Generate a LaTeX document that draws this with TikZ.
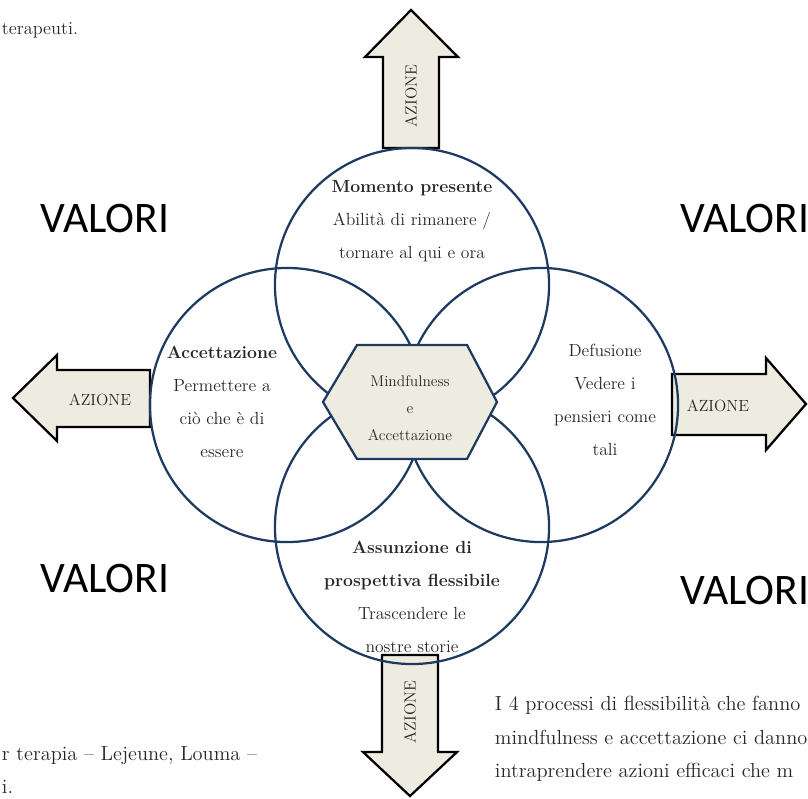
\documentclass[tikz,border=0pt]{standalone}
\usepackage{fontspec}
\newfontfamily\valorifont{Carlito}
\usepackage{xcolor}
\usepackage{tikz}
\usetikzlibrary{shapes.geometric, arrows.meta, positioning}

\definecolor{bordoblu}{HTML}{1F3A60}
\definecolor{fondocarta}{HTML}{EEECE1}
\definecolor{testogrigio}{HTML}{262626}

\tikzset{
  processo/.style={draw=bordoblu, line width=1.6pt},
  frecciona/.style={draw=black, line width=1.6pt, fill=fondocarta, line join=miter},
  azione/.style={font=\fontsize{11.5}{13}\selectfont, text=testogrigio},
  valori/.style={font=\valorifont\fontsize{31}{34}\selectfont},
  testocerchio/.style={align=center, text=testogrigio, font=\fontsize{12.5}{23.5}\selectfont},
  nota/.style={anchor=west, align=left, text=testogrigio, font=\fontsize{14.5}{24}\selectfont},
}

\begin{document}
\begin{tikzpicture}[x=0.025cm, y=-0.025cm]

        \useasboundingbox (0,0) rectangle (808,798);

        %=====================
        % Arrows (azione)
        %=====================
        \draw[frecciona] (383,148) -- (383,57) -- (365,57) -- (411,10)
        -- (458,57) -- (439,57) -- (439,148) -- cycle;
        \draw[frecciona] (150,370) -- (57,370) -- (57,355) -- (13,398)
        -- (57,441) -- (57,427) -- (150,427) -- cycle;
        \draw[frecciona] (672,374) -- (766,374) -- (766,358) -- (806,404)
        -- (766,450) -- (766,435) -- (672,435) -- cycle;
        \draw[frecciona] (382,655) -- (382,752) -- (363,752) -- (410,796)
        -- (457,752) -- (438,752) -- (438,655) -- cycle;

        \node[azione,rotate=90] (azionesu) at (411,96) {AZIONE};
        \node[azione] (azionesx) at (100,400) {AZIONE};
        \node[azione] (azionedx) at (718,406) {AZIONE};
        \node[azione,rotate=90] (azionegiu) at (410,712) {AZIONE};

        %=====================
        % The four processes
        %=====================
        \draw[processo] (412,285) circle[radius=3.425cm];
        \draw[processo] (287,405) circle[radius=3.425cm];
        \draw[processo] (541,405) circle[radius=3.425cm];
        \draw[processo] (412,527) circle[radius=3.425cm];

        \node[testocerchio] (momento) at (412,221)
        {\textbf{Momento presente}\\Abilità di rimanere /\\tornare al qui e ora};
        \node[testocerchio] (accettazione) at (222,402)
        {\textbf{Accettazione}\\Permettere a\\ciò che è di\\essere};
        \node[testocerchio] (defusione) at (605,400)
        {Defusione\\Vedere i\\pensieri come\\tali};
        \node[testocerchio] (assunzione) at (412,597)
        {\textbf{Assunzione di}\\\textbf{prospettiva flessibile}\\Trascendere le\\nostre storie};

        %=====================
        % Centre hexagon
        %=====================
        \draw[processo, fill=fondocarta] (323,402) -- (357,345) -- (467,345)
        -- (497,402) -- (467,459) -- (357,459) -- cycle;
        \node[align=center, text=testogrigio, font=\fontsize{11}{19}\selectfont]
        (mindfulness) at (410,408) {Mindfulness\\e\\Accettazione};

        %=====================
        % Valori
        %=====================
        \node[valori] (valorino) at (105,218) {VALORI};
        \node[valori] (valorine) at (745,218) {VALORI};
        \node[valori] (valoriso) at (105,578) {VALORI};
        \node[valori] (valorise) at (745,590) {VALORI};

        %=====================
        % Page text around the figure
        %=====================
        \node[nota, font=\fontsize{13}{20}\selectfont] (notasu) at (-3,30) {terapeuti.};
        \node[nota] (notasx) at (-3,770) {r terapia -- Lejeune, Louma --\\i.};
        \node[nota] (notadx) at (490,739)
        {I 4 processi di flessibilità che fanno\\mindfulness e accettazione ci danno\\intraprendere azioni efficaci che m};

\end{tikzpicture}
\end{document}
